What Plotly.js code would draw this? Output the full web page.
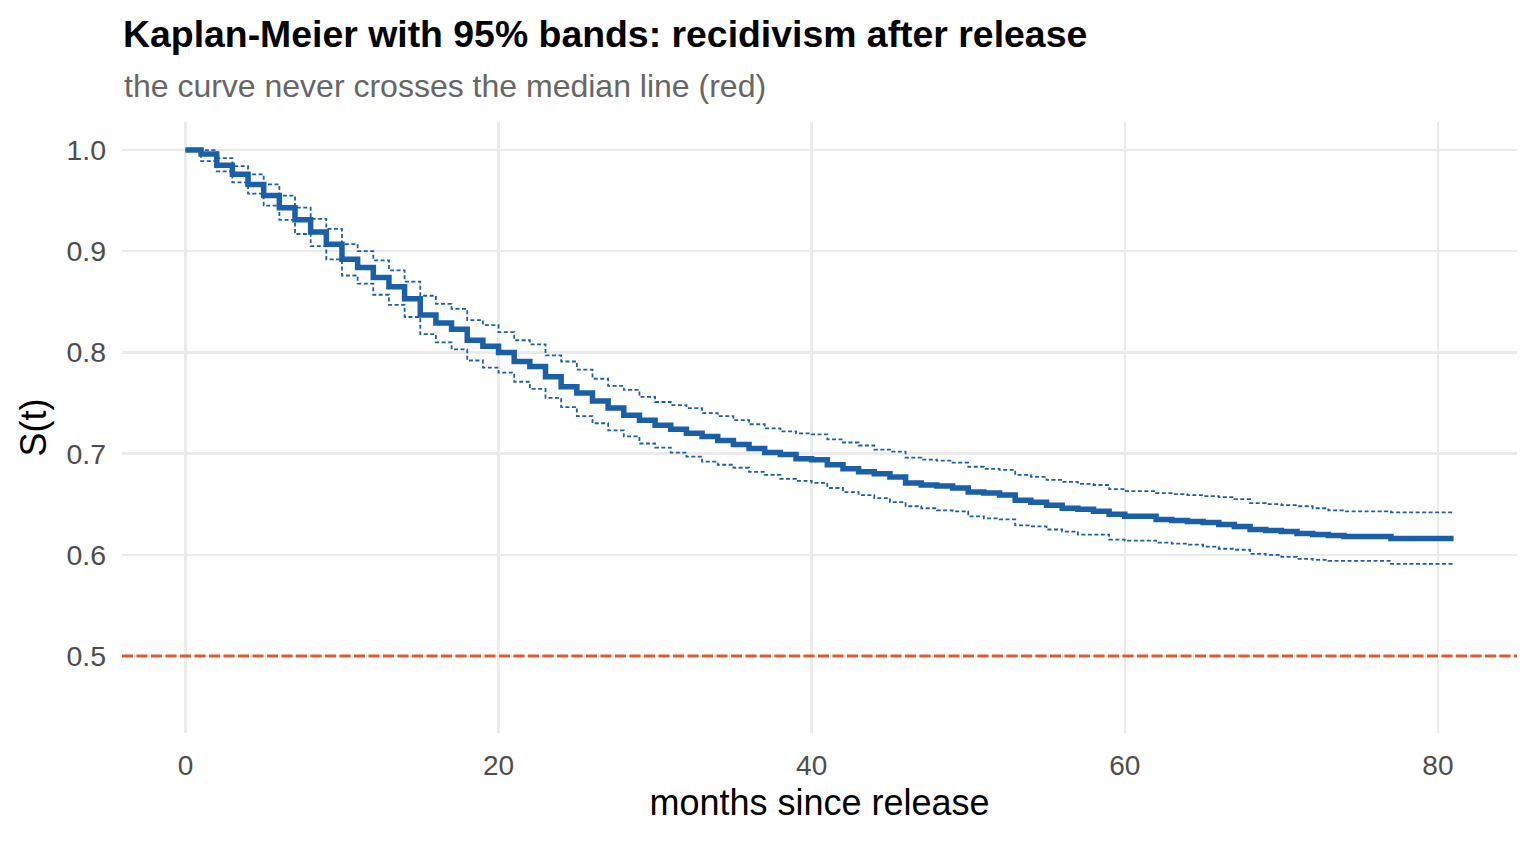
<!DOCTYPE html>
<html>
<head>
<meta charset="utf-8">
<script src="https://cdn.plot.ly/plotly-3.0.1.min.js"></script>
<style>
  html, body { margin: 0; padding: 0; background: #fff; }
  #chart { width: 1536px; height: 844px; }
</style>
</head>
<body>
<div id="chart"></div>
<script>
// months where the estimate steps (last entry is the end of follow-up)
const months = [0, 1, 2, 3, 4, 5, 6, 7, 8, 9, 10, 11, 12, 13, 14, 15, 16, 17, 18, 19,
    20, 21, 22, 23, 24, 25, 26, 27, 28, 29, 30, 31, 32, 33, 34, 35, 36, 37, 38, 39,
    40, 41, 42, 43, 44, 45, 46, 47, 48, 49, 50, 51, 52, 53, 54, 55, 56, 57, 58, 59,
    60, 62, 63, 64, 65, 66, 67, 68, 69, 70, 71, 72, 73, 74, 77, 81]

// Kaplan-Meier estimate S(t)
const survival = [1.000, 0.996, 0.985, 0.976, 0.966, 0.955, 0.943, 0.931, 0.919, 0.907,
    0.892, 0.884, 0.874, 0.865, 0.853, 0.837, 0.829, 0.823, 0.812, 0.806,
    0.800, 0.791, 0.786, 0.776, 0.766, 0.760, 0.752, 0.745, 0.738, 0.733,
    0.728, 0.724, 0.720, 0.717, 0.713, 0.709, 0.705, 0.701, 0.699, 0.695,
    0.694, 0.689, 0.685, 0.682, 0.680, 0.677, 0.671, 0.669, 0.668, 0.666,
    0.662, 0.661, 0.659, 0.654, 0.652, 0.649, 0.646, 0.645, 0.643, 0.640,
    0.638, 0.635, 0.634, 0.633, 0.632, 0.630, 0.628, 0.625, 0.624, 0.623,
    0.621, 0.620, 0.619, 0.618, 0.616, 0.616]

// 95% band, upper and lower
const upper = [1.000, 1.000, 0.992, 0.984, 0.976, 0.966, 0.955, 0.943, 0.932, 0.922,
    0.907, 0.900, 0.891, 0.881, 0.870, 0.856, 0.848, 0.843, 0.832, 0.827,
    0.820, 0.812, 0.808, 0.797, 0.791, 0.783, 0.774, 0.767, 0.763, 0.756,
    0.751, 0.748, 0.745, 0.740, 0.737, 0.733, 0.729, 0.725, 0.722, 0.720,
    0.719, 0.714, 0.711, 0.708, 0.704, 0.702, 0.696, 0.694, 0.693, 0.691,
    0.687, 0.685, 0.684, 0.679, 0.677, 0.674, 0.672, 0.670, 0.669, 0.665,
    0.663, 0.661, 0.660, 0.659, 0.658, 0.657, 0.655, 0.651, 0.650, 0.649,
    0.648, 0.646, 0.644, 0.643, 0.642, 0.642]

const lower = [1.000, 0.989, 0.979, 0.968, 0.957, 0.945, 0.931, 0.917, 0.905, 0.892,
    0.876, 0.868, 0.857, 0.847, 0.835, 0.818, 0.810, 0.803, 0.792, 0.785,
    0.780, 0.771, 0.764, 0.755, 0.746, 0.737, 0.730, 0.723, 0.717, 0.710,
    0.706, 0.701, 0.697, 0.692, 0.689, 0.686, 0.682, 0.679, 0.675, 0.673,
    0.671, 0.666, 0.662, 0.659, 0.656, 0.652, 0.648, 0.646, 0.644, 0.643,
    0.638, 0.636, 0.635, 0.629, 0.628, 0.625, 0.623, 0.620, 0.620, 0.615,
    0.614, 0.612, 0.611, 0.610, 0.608, 0.606, 0.605, 0.601, 0.600, 0.598,
    0.596, 0.595, 0.594, 0.594, 0.591, 0.591]

const medianLevel = 0.5
const xTicks = [0, 20, 40, 60, 80]
const yTicks = [0.5, 0.6, 0.7, 0.8, 0.9, 1.0]

const blue = "#1a5fa8"
const font = "Liberation Sans, Arial, sans-serif"

let band = function (vals) {
    return {
        x: months,
        y: vals,
        type: "scatter",
        mode: "lines",
        line: { shape: "hv", color: blue, width: 1.8, dash: "4px,2.5px" },
        hoverinfo: "skip",
        showlegend: false
    }
}

let data = [
    band(upper),
    band(lower),
    {
        x: months,
        y: survival,
        type: "scatter",
        mode: "lines",
        line: { shape: "hv", color: blue, width: 5.5 },
        showlegend: false
    }
]

let layout = {
    width: 1536,
    height: 844,
    paper_bgcolor: "#fff",
    plot_bgcolor: "#fff",
    margin: { l: 122, r: 19, t: 122, b: 111 },
    font: { family: font },
    title: {
        text: "<b>Kaplan-Meier with 95% bands: recidivism after release</b>",
        font: { size: 37.4, color: "#000" },
        xref: "container", x: 123 / 1536, xanchor: "left",
        yref: "container", y: 1 - 34 / 844, yanchor: "middle"
    },
    annotations: [{
        text: "the curve never crosses the median line (red)",
        xref: "paper", x: 0, xanchor: "left",
        yref: "paper", y: 1 + (122 - 86) / 611, yanchor: "middle",
        showarrow: false,
        font: { size: 32, color: "#666666" }
    }],
    shapes: [{
        type: "line",
        xref: "paper", x0: 0, x1: 1,
        yref: "y", y0: medianLevel, y1: medianLevel,
        line: { color: "#dd5b2d", width: 3.2, dash: "11px,3.5px" }
    }],
    xaxis: {
        range: [-4.05, 85.05],
        tickvals: xTicks,
        showgrid: true, gridcolor: "#ebebeb", gridwidth: 2.5,
        zeroline: false, showline: false, ticks: "",
        tickfont: { size: 28, color: "#4d4d4d" },
        ticklabelstandoff: 13,
        title: { text: "months since release", font: { size: 36, color: "#000" }, standoff: 9 }
    },
    yaxis: {
        range: [0.4239, 1.0277],
        tickvals: yTicks,
        tickformat: ".1f",
        showgrid: true, gridcolor: "#ebebeb", gridwidth: 2.5,
        zeroline: false, showline: false, ticks: "",
        tickfont: { size: 28.5, color: "#4d4d4d" },
        ticklabelstandoff: 15,
        title: { text: "S(t)", font: { size: 36, color: "#000" }, standoff: 8 }
    }
}

Plotly.newPlot("chart", data, layout, { staticPlot: true, displayModeBar: false })
</script>
</body>
</html>
